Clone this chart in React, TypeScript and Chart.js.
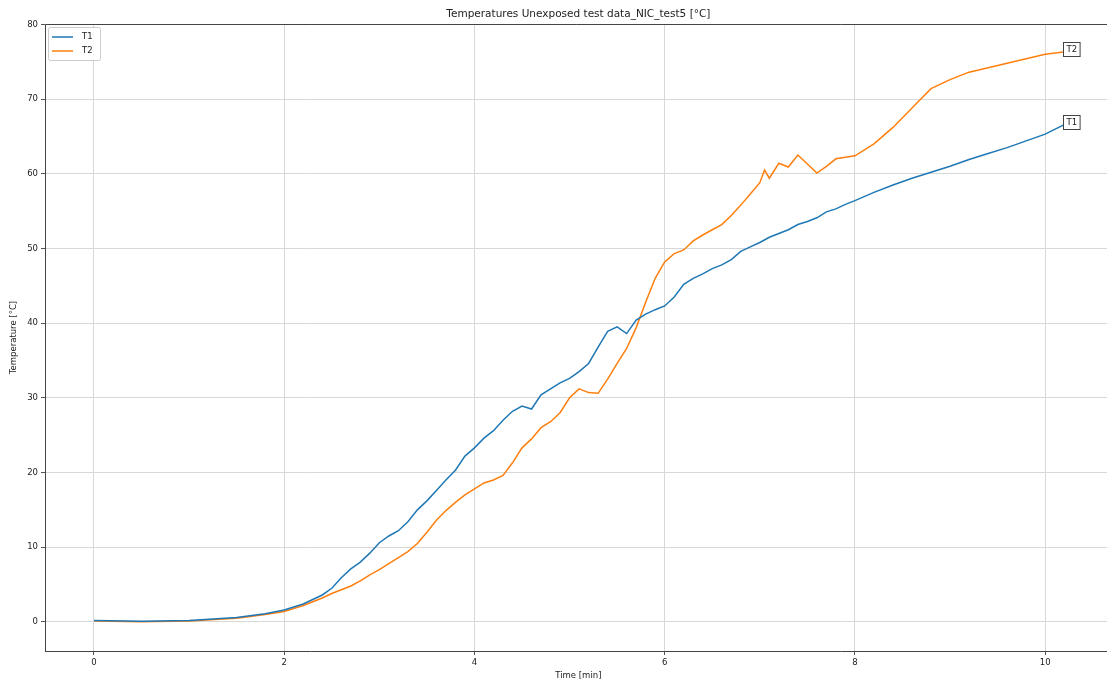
import React, { useEffect, useRef } from "react";
import { Chart, registerables } from "chart.js";

Chart.register(...registerables);

const chartTitle = "Temperatures Unexposed test data_NIC_test5 [°C]";
const xAxisTitle = "Time [min]";
const yAxisTitle = "Temperature [°C]";
const seriesNames = ["T1", "T2"];
const seriesColors = ["#1f77b4", "#ff7f0e"];

const xTickValues = [0, 2, 4, 6, 8, 10];
const yTickValues = [0, 10, 20, 30, 40, 50, 60, 70, 80];

const t1Times = [
  0, 0.5, 1, 1.5, 1.8, 2, 2.2, 2.4, 2.5, 2.6, 2.7, 2.8, 2.9, 3.0, 3.1, 3.2, 3.3, 3.4, 3.5, 3.6,
  3.7, 3.8, 3.9, 4.0, 4.1, 4.2, 4.3, 4.4, 4.5, 4.6, 4.7, 4.8, 4.9, 5.0, 5.1, 5.2, 5.3, 5.4, 5.5,
  5.6, 5.7, 5.8, 5.9, 6.0, 6.1, 6.2, 6.3, 6.4, 6.5, 6.6, 6.7, 6.8, 6.9, 7.0, 7.1, 7.2, 7.3, 7.4,
  7.5, 7.6, 7.7, 7.8, 7.9, 8.0, 8.2, 8.4, 8.6, 8.8, 9.0, 9.2, 9.4, 9.6, 9.8, 10.0, 10.19,
];
const t1Values = [
  0.2, 0.1, 0.2, 0.6, 1.1, 1.6, 2.4, 3.6, 4.5, 5.9, 7.1, 8.0, 9.2, 10.6, 11.5, 12.2, 13.4, 15.0, 16.2,
  17.6, 19.0, 20.3, 22.2, 23.3, 24.6, 25.6, 27.0, 28.2, 28.9, 28.5, 30.4, 31.2, 32.0, 32.6, 33.5,
  34.6, 36.8, 38.9, 39.5, 38.6, 40.4, 41.2, 41.8, 42.3, 43.5, 45.2, 46.0, 46.6, 47.3, 47.8, 48.5,
  49.6, 50.2, 50.8, 51.5, 52.0, 52.5, 53.2, 53.6, 54.1, 54.9, 55.3, 55.9, 56.4, 57.5, 58.5, 59.4,
  60.2, 61.0, 61.9, 62.7, 63.5, 64.4, 65.3, 66.5,
];

const t2Times = [
  0, 0.5, 1, 1.5, 1.8, 2, 2.2, 2.4, 2.5, 2.6, 2.7, 2.8, 2.9, 3.0, 3.1, 3.2, 3.3, 3.4, 3.5, 3.6,
  3.7, 3.8, 3.9, 4.0, 4.1, 4.2, 4.3, 4.4, 4.5, 4.6, 4.7, 4.8, 4.9, 5.0, 5.1, 5.2, 5.3, 5.4, 5.5,
  5.6, 5.7, 5.8, 5.9, 6.0, 6.1, 6.2, 6.3, 6.4, 6.5, 6.6, 6.7, 6.8, 6.9, 7.0, 7.05, 7.1, 7.2, 7.3,
  7.4, 7.5, 7.6, 7.7, 7.8, 7.9, 8.0, 8.2, 8.4, 8.6, 8.8, 9.0, 9.2, 9.4, 9.6, 9.8, 10.0, 10.19,
];
const t2Values = [
  0.1, 0.0, 0.1, 0.5, 1.0, 1.4, 2.2, 3.2, 3.8, 4.3, 4.8, 5.5, 6.3, 7.0, 7.8, 8.6, 9.4, 10.5, 12.0,
  13.6, 14.9, 16.0, 17.0, 17.8, 18.6, 19.0, 19.6, 21.3, 23.3, 24.5, 26.0, 26.8, 28.0, 30.0, 31.2,
  30.7, 30.6, 32.5, 34.6, 36.6, 39.4, 42.8, 46.0, 48.2, 49.3, 49.8, 51.0, 51.8, 52.5, 53.2, 54.4,
  55.8, 57.3, 58.8, 60.5, 59.4, 61.4, 60.9, 62.5, 61.3, 60.1, 61.0, 62.0, 62.2, 62.4, 64.0, 66.2,
  68.8, 71.4, 72.6, 73.6, 74.2, 74.8, 75.4, 76.0, 76.3,
];

const FONT = "'DejaVu Sans', sans-serif";

const decorPlugin = {
  id: "decor",
  afterDraw(chart: any) {
    const ctx = chart.ctx;
    const a = chart.chartArea;
    const xs = chart.scales.x;
    ctx.save();
    // frame
    ctx.strokeStyle = "#444";
    ctx.lineWidth = 1;
    ctx.beginPath();
    ctx.moveTo(a.left + 0.5, a.bottom + 0.5);
    ctx.lineTo(a.left + 0.5, a.top + 0.5);
    ctx.lineTo(a.right, a.top + 0.5);
    ctx.moveTo(a.left, a.bottom + 0.5);
    ctx.lineTo(a.right, a.bottom + 0.5);
    ctx.stroke();

    const axesCenter = (a.left + xs.getPixelForValue(10.7)) / 2;
    ctx.fillStyle = "#222";
    ctx.textAlign = "center";
    ctx.textBaseline = "middle";
    ctx.font = `10.5px ${FONT}`;
    ctx.fillText(chartTitle, axesCenter, 14);
    ctx.font = `8.5px ${FONT}`;
    ctx.fillText(xAxisTitle, axesCenter, 676);
    ctx.save();
    ctx.translate(14, (a.top + a.bottom) / 2);
    ctx.rotate(-Math.PI / 2);
    ctx.fillText(yAxisTitle, 0, 0);
    ctx.restore();

    // legend
    ctx.fillStyle = "rgba(255,255,255,0.85)";
    ctx.strokeStyle = "#ccc";
    ctx.beginPath();
    const lx = a.left + 3.5, ly = a.top + 3.5, lw = 52, lh = 33;
    ctx.roundRect(lx, ly, lw, lh, 2);
    ctx.fill();
    ctx.stroke();
    seriesNames.forEach((n, i) => {
      const y = a.top + 13 + i * 14;
      ctx.strokeStyle = seriesColors[i];
      ctx.lineWidth = 1.5;
      ctx.beginPath();
      ctx.moveTo(a.left + 7, y);
      ctx.lineTo(a.left + 28, y);
      ctx.stroke();
      ctx.fillStyle = "#222";
      ctx.textAlign = "left";
      ctx.font = `8.5px ${FONT}`;
      ctx.fillText(n, a.left + 37, y);
    });

    // end labels
    chart.data.datasets.forEach((ds: any, i: number) => {
      const meta = chart.getDatasetMeta(i);
      const last = meta.data[meta.data.length - 1];
      const px = last.x, py = last.y;
      ctx.font = `8.5px ${FONT}`;
      const tw = ctx.measureText(seriesNames[i]).width;
      const bx = Math.round(px) + 0.5, by = Math.round(py - 10) + 0.5;
      ctx.fillStyle = "#fff";
      ctx.strokeStyle = "#444";
      ctx.lineWidth = 1;
      ctx.fillRect(bx, by, tw + 6, 14);
      ctx.strokeRect(bx, by, tw + 6, 14);
      ctx.fillStyle = "#222";
      ctx.textAlign = "left";
      ctx.textBaseline = "middle";
      ctx.fillText(seriesNames[i], bx + 3, by + 7);
    });
    ctx.restore();
  },
};

export default function App() {
  const ref = useRef<HTMLCanvasElement>(null);
  useEffect(() => {
    if (!ref.current) return;
    const chart = new Chart(ref.current, {
      type: "line",
      data: {
        datasets: [
          {
            label: seriesNames[0],
            data: t1Times.map((t, i) => ({ x: t, y: t1Values[i] })),
            borderColor: seriesColors[0],
            borderWidth: 1.5,
            pointRadius: 0,
            tension: 0,
          },
          {
            label: seriesNames[1],
            data: t2Times.map((t, i) => ({ x: t, y: t2Values[i] })),
            borderColor: seriesColors[1],
            borderWidth: 1.5,
            pointRadius: 0,
            tension: 0,
          },
        ],
      },
      options: {
        animation: false,
        responsive: false,
        devicePixelRatio: 1,
        layout: { padding: { top: 24, left: 0, right: 0, bottom: 0 } },
        plugins: { legend: { display: false }, title: { display: false }, tooltip: { enabled: false } },
        scales: {
          x: {
            type: "linear",
            min: -0.515,
            max: 10.65,
            afterBuildTicks: (s: any) => {
              s.ticks = xTickValues.map((v) => ({ value: v }));
            },
            afterFit: (s: any) => {
              s.height = 37;
            },
            border: { display: false },
            grid: { color: "#d8d8d8", tickColor: "#555", tickLength: 4, lineWidth: 1 },
            ticks: { font: { family: FONT, size: 8.5 }, color: "#222", padding: 3, maxRotation: 0 },
          },
          y: {
            type: "linear",
            min: -3.9,
            max: 80.05,
            afterBuildTicks: (s: any) => {
              s.ticks = yTickValues.map((v) => ({ value: v }));
            },
            afterFit: (s: any) => {
              s.width = 45;
            },
            border: { display: false },
            grid: { color: "#d8d8d8", tickColor: "#555", tickLength: 4, lineWidth: 1 },
            ticks: { font: { family: FONT, size: 8.5 }, color: "#222", padding: 3 },
          },
        },
      },
      plugins: [decorPlugin],
    });
    return () => chart.destroy();
  }, []);
  return (
    <div style={{ position: "fixed", left: 0, top: 0, width: 1107, height: 688, background: "#fff" }}>
      <canvas ref={ref} width={1107} height={688} style={{ display: "block" }} />
    </div>
  );
}
